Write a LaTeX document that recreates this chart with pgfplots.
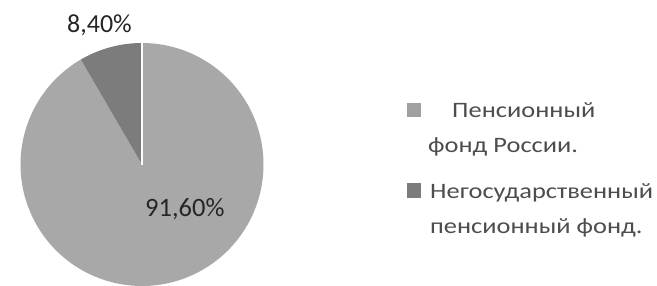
\documentclass[border=0pt]{standalone}
\usepackage{fontspec}
\setmainfont{Carlito}
\newfontfamily\legfont[FakeStretch=1.2]{Carlito}
\usepackage{pgfplots}
\pgfplotsset{compat=1.18}
\definecolor{pielight}{HTML}{A8A8A8}
\definecolor{piedark}{HTML}{7C7C7C}
\definecolor{labtext}{HTML}{262626}
\definecolor{legtext}{HTML}{4D4D4D}
\begin{document}
\begin{tikzpicture}[x=1bp,y=1bp]
\useasboundingbox (0,0) rectangle (657,285);
\begin{axis}[
  at={(20.5bp,-1bp)}, anchor=south west,
  scale only axis, hide axis, clip=false,
  x=121.5bp, y=121.5bp,
  xmin=-1, xmax=1, ymin=-1, ymax=1,
]
% shares: 91.6 (Пенсионный фонд России), 8.4 (Негосударственный пенсионный фонд)
\addplot[draw=none, fill=pielight, domain=90+8.4*3.6:90+8.4*3.6+91.6*3.6, samples=240]
  ({cos(x)},{sin(x)}) -- (axis cs:0,0) -- cycle;
\addplot[draw=none, fill=piedark, domain=90:90+8.4*3.6, samples=40]
  ({cos(x)},{sin(x)}) -- (axis cs:0,0) -- cycle;
\addplot[white, line width=1.2bp] coordinates {(0,0) (0,1)};
\end{axis}
% data labels
\node[anchor=base west, inner sep=0, text=labtext, font=\fontsize{26bp}{30bp}\selectfont] at (67,253) {8,40\%};
\node[anchor=base west, inner sep=0, text=labtext, font=\fontsize{26.5bp}{30bp}\selectfont] at (145,69) {91,60\%};
% legend
\fill[pielight!95!black] (407,168) rectangle (421,182);
\fill[piedark] (407,87) rectangle (421,102);
\begin{scope}[every node/.style={anchor=base west, inner sep=0, text=legtext, font=\legfont\fontsize{22bp}{26bp}\selectfont}]
\node at (452,168) {Пенсионный};
\node at (428,133) {фонд России.};
\node at (430,87) {Негосударственный};
\node at (430,52) {пенсионный фонд.};
\end{scope}
\end{tikzpicture}
\end{document}
